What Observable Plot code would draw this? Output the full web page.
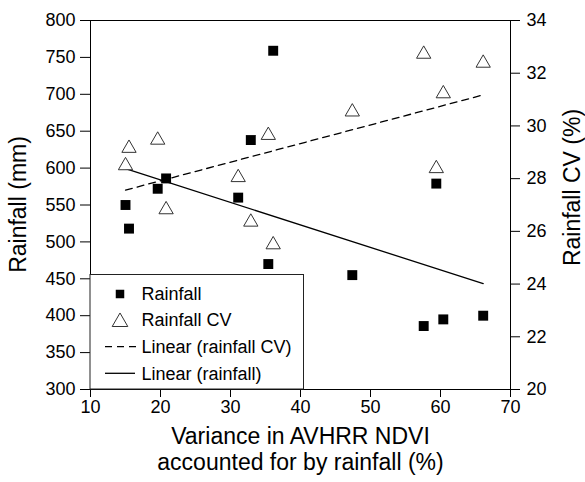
<!DOCTYPE html>
<html>
<head>
<meta charset="utf-8">
<script src="https://cdn.jsdelivr.net/npm/d3@7"></script>
<script src="https://cdn.jsdelivr.net/npm/@observablehq/plot@0.6"></script>
<style>
  html, body { margin: 0; padding: 0; background: white; }
  #chart { width: 585px; height: 482px; }
</style>
</head>
<body>
<div id="chart"></div>
<script>
// Data
const variance = [15.0, 15.5, 19.6, 20.8, 31.1, 32.9, 35.4, 36.1, 47.4, 57.6, 59.4, 60.4, 66.1];
const rainfall = [550, 518, 572, 586, 560, 638, 470, 759, 455, 386, 579, 395, 400];
const rainfallCV = [28.57, 29.23, 29.54, 26.9, 28.12, 26.43, 29.72, 25.57, 30.61, 32.8, 28.46, 31.3, 32.46];

const xTicks = [10, 20, 30, 40, 50, 60, 70];
const yTicks = [300, 350, 400, 450, 500, 550, 600, 650, 700, 750, 800];
const cvTicks = [20, 22, 24, 26, 28, 30, 32, 34];

const xLabel = "Variance in AVHRR NDVI\naccounted for by rainfall (%)";
const yLabel = "Rainfall (mm)";
const y2Label = "Rainfall CV (%)";
const legendItems = ["Rainfall", "Rainfall CV", "Linear (rainfall CV)", "Linear (rainfall)"];

// secondary axis mapping (CV 20..34 onto rainfall 300..800)
const cvToRain = c => 300 + (c - 20) * 500 / 14;
const rainToCv = r => 20 + (r - 300) * 14 / 500;

const data = variance.map((x, i) => ({x, rain: rainfall[i], cv: rainfallCV[i], cvY: cvToRain(rainfallCV[i])}));

const font = "'Liberation Sans', Arial, Helvetica, sans-serif";

const chart = Plot.plot({
  width: 585,
  height: 482,
  marginLeft: 90,
  marginRight: 75,
  marginTop: 20,
  marginBottom: 93,
  x: {domain: [10, 70]},
  y: {domain: [300, 800]},
  style: {fontFamily: font, fontSize: "18px", color: "black", background: "white"},
  marks: [
    Plot.frame({stroke: "black", strokeWidth: 1}),
    Plot.axisX({ticks: xTicks, tickSize: 8, tickPadding: 3, fontSize: 18, label: null}),
    Plot.axisY({ticks: yTicks, tickSize: 10, tickPadding: 5, fontSize: 18, label: null}),
    Plot.axisY(cvTicks.map(cvToRain), {anchor: "right", tickSize: 9, tickPadding: 7, fontSize: 18, label: null,
      tickFormat: d => String(Math.round(rainToCv(d)))}),
    Plot.linearRegressionY(data, {x: "x", y: "rain", ci: 0, stroke: "black", strokeWidth: 1.3}),
    Plot.linearRegressionY(data, {x: "x", y: "cvY", ci: 0, stroke: "black", strokeWidth: 1.3, strokeDasharray: "7,5"}),
    Plot.dot(data, {x: "x", y: "rain", symbol: "square", fill: "black", r: 5.6}),
    Plot.dot(data, {x: "x", y: "cvY", symbol: "triangle", fill: "white", stroke: "#333", strokeWidth: 1, r: 5.3, dy: 2}),
    Plot.text([xLabel], {frameAnchor: "bottom", lineAnchor: "top", dy: 37, fontSize: 23, lineHeight: 1.1, fill: "black"})
  ]
});

document.getElementById("chart").appendChild(chart);

const svg = d3.select(chart.tagName.toLowerCase() === "svg" ? chart : chart.querySelector("svg"));

// Rotated axis titles
const titles = svg.append("g").attr("font-family", font).attr("font-size", 23).attr("text-anchor", "middle");
titles.append("text").attr("transform", "translate(18,204.5) rotate(-90)").attr("dy", "0.35em")
  .attr("fill", "black").text(yLabel);
titles.append("text").attr("transform", "translate(572,187.5) rotate(-90)").attr("dy", "0.35em")
  .attr("fill", "black").text(y2Label);

// Legend box inside the plot (lower-left)
const lg = svg.append("g").attr("font-family", font).attr("font-size", 18).attr("text-anchor", "start");
const bx = 90, by = 274.5, bw = 213.5, bh = 389 - 274.5;
lg.append("rect").attr("x", bx).attr("y", by).attr("width", bw).attr("height", bh)
  .attr("fill", "white").attr("stroke", "#222").attr("stroke-width", 1);
const rows = [294, 320, 346.7, 373.3];
const sx = 120;
lg.append("rect").attr("x", sx - 4.25).attr("y", rows[0] - 4.25).attr("width", 8.5).attr("height", 8.5).attr("fill", "black");
lg.append("path").attr("transform", `translate(${sx},${rows[1] + 2})`)
  .attr("d", d3.symbol(d3.symbolTriangle, Math.PI * 5.8 * 5.8)())
  .attr("fill", "white").attr("stroke", "#333");
lg.append("line").attr("x1", 105).attr("x2", 138).attr("y1", rows[2]).attr("y2", rows[2])
  .attr("stroke", "black").attr("stroke-width", 1.3).attr("stroke-dasharray", "7,5");
lg.append("line").attr("x1", 105).attr("x2", 135).attr("y1", rows[3]).attr("y2", rows[3])
  .attr("stroke", "black").attr("stroke-width", 1.3);
legendItems.forEach((t, i) => {
  lg.append("text").attr("x", 141.5).attr("y", rows[i]).attr("dy", "0.35em")
    .attr("text-anchor", "start").attr("fill", "black").text(t);
});
</script>
</body>
</html>
